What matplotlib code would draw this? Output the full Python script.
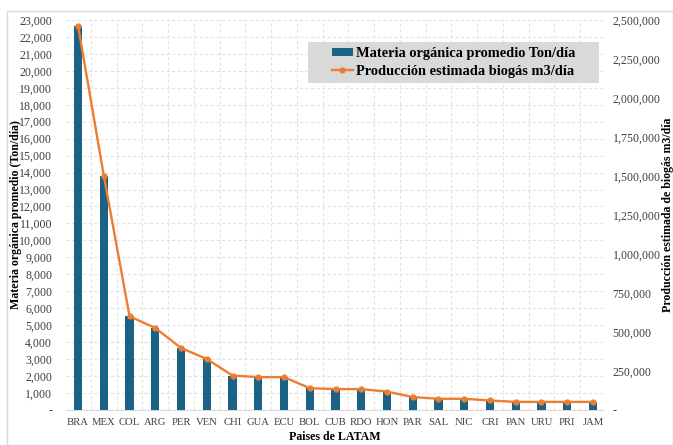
import numpy as np
import matplotlib.pyplot as plt
from matplotlib.ticker import FuncFormatter, MultipleLocator
from matplotlib.patches import Rectangle

plt.rcParams['font.family'] = ['Liberation Serif', 'DejaVu Serif']

paises = ['BRA', 'MEX', 'COL', 'ARG', 'PER', 'VEN', 'CHI', 'GUA', 'ECU', 'BOL',
          'CUB', 'RDO', 'HON', 'PAR', 'SAL', 'NIC', 'CRI', 'PAN', 'URU', 'PRI', 'JAM']
materia_ton = [22650, 13820, 5520, 4830, 3650, 3000, 2020, 1930, 1930, 1280,
               1220, 1220, 1080, 750, 650, 650, 550, 470, 470, 470, 470]
biogas_m3 = [2462000, 1502000, 600000, 525000, 397000, 326000, 220000, 210000, 210000, 139000,
             133000, 133000, 117000, 82000, 71000, 71000, 60000, 51000, 51000, 51000, 51000]

azul = '#1b6285'
naranja = '#ed7d31'

fig = plt.figure(figsize=(6.73, 4.45), dpi=100)
# marco gris alrededor del grafico
fig.patches.append(Rectangle((7 / 673, 0), 1 - 7 / 673, 1 - 11 / 445, transform=fig.transFigure,
                             fill=False, edgecolor='#d9d9d9', linewidth=1))
ax = fig.add_axes([0.098, 0.079, 0.798, 0.876])
ax2 = ax.twinx()

x = np.arange(len(paises))
ax.bar(x, materia_ton, width=0.32, color=azul, zorder=3, label='Materia orgánica promedio Ton/día')
ax2.plot(x, biogas_m3, color=naranja, linewidth=1.7, marker='o', markersize=3.5,
         zorder=4, label='Producción estimada biogás m3/día')

ax.set_ylim(0, 23000)
ax2.set_ylim(0, 2500000)
ax.set_xlim(-0.47, len(paises) - 0.61)
ax.yaxis.set_major_locator(MultipleLocator(1000))
ax2.yaxis.set_major_locator(MultipleLocator(250000))

def miles(v, pos):
    return '-' if v == 0 else f'{v:,.0f}'

ax.yaxis.set_major_formatter(FuncFormatter(miles))
ax2.yaxis.set_major_formatter(FuncFormatter(miles))

ax.set_xticks(x)
ax.set_xticklabels(paises)
ax.set_xticks(x[:-1] + 0.5, minor=True)
ax.grid(True, which='major', axis='y', linestyle=(0, (3, 2)), color='#e3e3e3', linewidth=0.8, zorder=0)
ax.grid(True, which='minor', axis='x', linestyle=(0, (3, 2)), color='#e3e3e3', linewidth=0.8, zorder=0)
ax.tick_params(which='both', length=0, colors='#404040')
ax.tick_params(axis='x', labelsize=7.7, pad=6)
ax.tick_params(axis='y', labelsize=8.6, pad=10)
ax2.tick_params(length=0, labelsize=8.6, colors='#404040', pad=7)

for a in (ax, ax2):
    for s in a.spines.values():
        s.set_visible(False)
ax.spines['bottom'].set_visible(True)
ax.spines['bottom'].set_color('#d9d9d9')

ax.set_ylabel('Materia orgánica promedio (Ton/día)', fontsize=8.6, fontweight='bold', labelpad=-2)
ax2.set_ylabel('Producción estimada de biogás m3/día', fontsize=8.6, fontweight='bold', labelpad=1)
ax.set_xlabel('Paises de LATAM', fontsize=8.6, fontweight='bold', labelpad=3)

# caja gris de la leyenda
x0, x1, y0, y1 = 0.4507, 0.9926, 0.8385, 0.9436
ax2.add_patch(Rectangle((x0, y0), x1 - x0, y1 - y0, transform=ax2.transAxes,
                        facecolor='#d9d9d9', edgecolor='none', zorder=5))
h1, l1 = ax.get_legend_handles_labels()
h2, l2 = ax2.get_legend_handles_labels()
leg = ax2.legend(h1 + h2, l1 + l2, loc='center', bbox_to_anchor=((x0 + x1) / 2, (y0 + y1) / 2),
                 prop={'weight': 'bold', 'size': 10.4}, frameon=False,
                 handlelength=1.45, handleheight=0.5, handletextpad=0.2, borderpad=0,
                 labelspacing=0.3, borderaxespad=0)
leg.set_zorder(6)

fig.savefig('out.png', dpi=100)
